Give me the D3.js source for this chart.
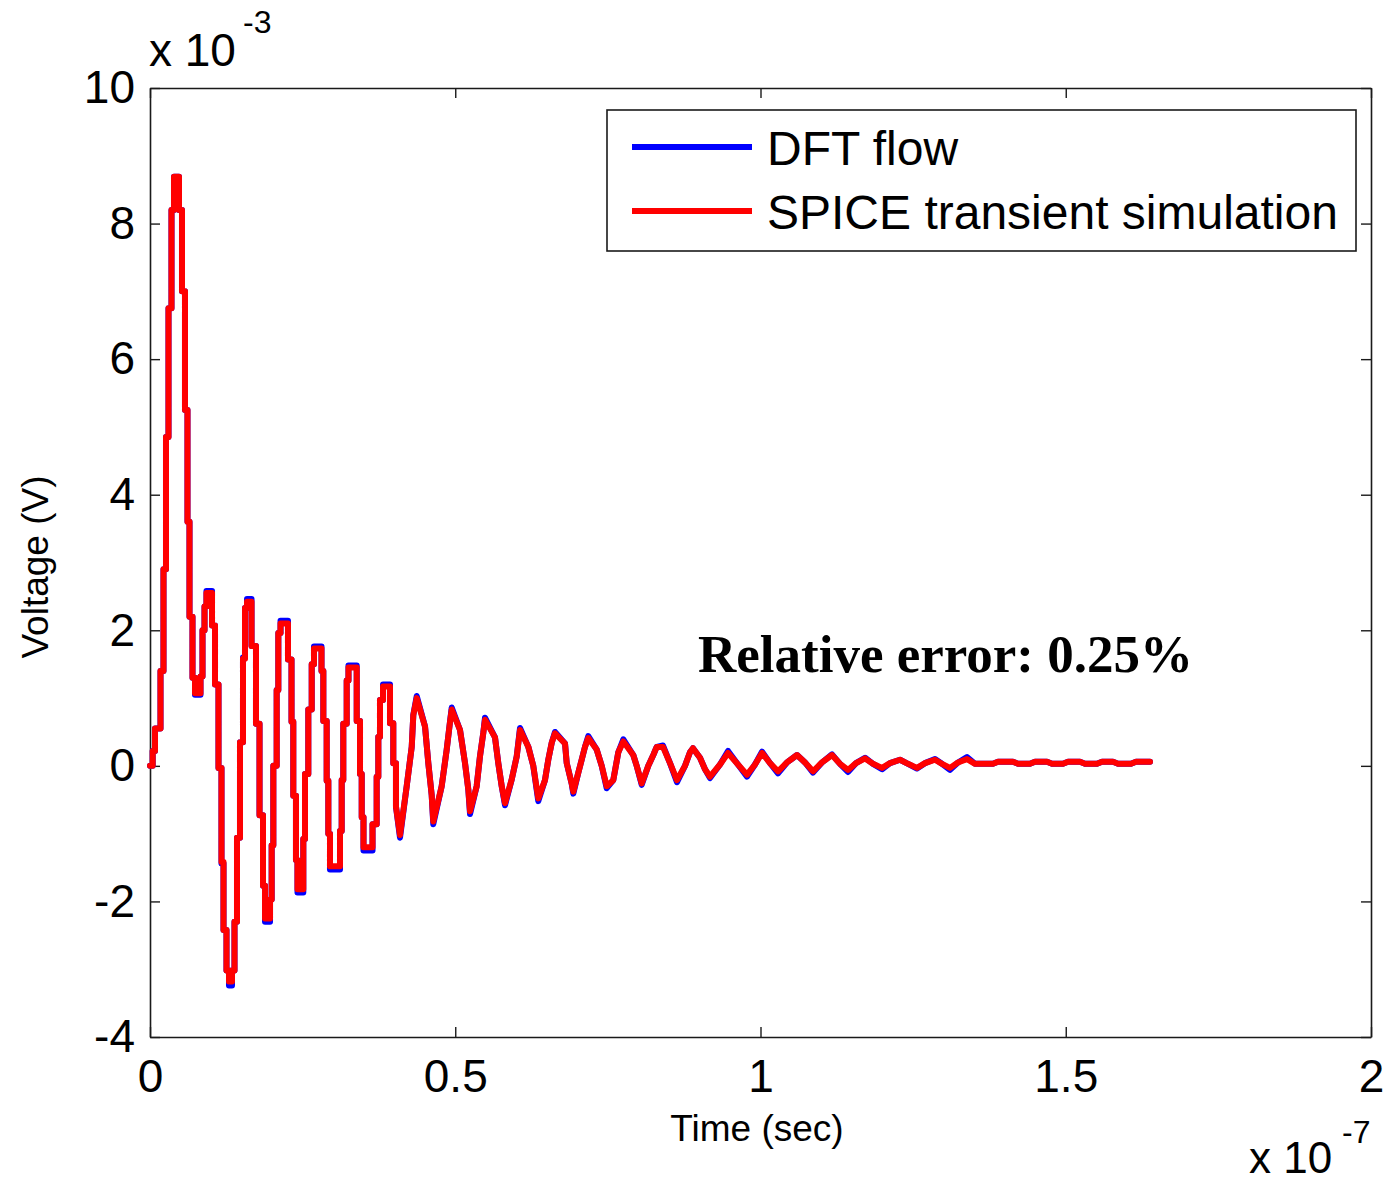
<!DOCTYPE html>
<html><head><meta charset="utf-8">
<script src="https://cdn.jsdelivr.net/npm/d3@7"></script>
<style>
body{margin:0;background:#fff}
svg{display:block}
text{font-family:"Liberation Sans",Arial,sans-serif;fill:#000}
</style>
</head><body>
<svg id="c" width="1392" height="1182"></svg>
<script>
// time in ns (axis shows x 10^-7 s), voltage in mV (axis shows x 10^-3 V)
const timeNs = [
  0, 0.44, 0.82, 1.72, 2.21, 2.62, 3.03, 3.52, 3.93, 4.75,
  5.24, 5.73, 6.14, 6.47, 6.96, 7.37, 8.27, 8.6, 8.93, 9.25,
  10.16, 10.65, 11.22, 11.71, 12.04, 12.53, 12.94, 13.43, 13.84, 14.25,
  14.74, 15.23, 15.56, 15.89, 16.63, 17.36, 17.94, 18.51, 18.84, 19.66,
  19.93, 20.2, 20.75, 21.02, 21.38, 22.6, 23.18, 23.47, 23.91, 24.16,
  25.11, 25.39, 25.93, 26.49, 26.86, 28.09, 28.39, 28.94, 29.21, 29.48,
  31.12, 31.4, 31.66, 32.22, 32.51, 33.86, 34.4, 34.68, 34.97, 36.45,
  37.13, 37.4, 37.67, 38.17, 39.31, 39.85, 40.29, 40.95, 42.05, 42.87,
  43.13, 43.69, 45.05, 45.59, 46.14, 46.4, 47.78, 48.6, 49.14, 49.42,
  50.78, 51.6, 52.14, 52.42, 53.51, 54.05, 54.6, 54.87, 56.51, 57.05,
  57.61, 58.15, 59.25, 60.07, 60.61, 61.97, 62.78, 63.6, 64.7, 65.24,
  65.8, 66.34, 67.98, 68.26, 69.07, 69.34, 70.16, 70.71, 71.25, 71.79,
  73.17, 73.99, 74.81, 75.89, 76.71, 77.53, 79.16, 79.72, 80.54, 81.62,
  82.44, 83.0, 84.03, 85.18, 86.32, 87.63, 88.45, 88.94, 90.09, 90.91,
  91.73, 93.37, 94.68, 96.31, 97.79, 99.1, 100.25, 101.56, 102.87, 104.34,
  105.98, 107.29, 108.6, 110.07, 111.71, 113.02, 114.33, 115.64, 117.12, 118.43,
  119.9, 121.21, 122.85, 124.16, 125.63, 126.94, 128.58, 129.73, 131.04, 132.35,
  133.82, 135.14, 138.08, 138.9, 141.36, 142.18, 144.14, 144.96, 146.93, 147.75,
  149.55, 150.37, 152.33, 153.15, 155.12, 155.94, 157.74, 158.56, 160.69, 161.51,
  163.8
];
const spiceMv = [
  0, 0.22, 0.55, 1.4, 2.9, 4.85, 6.75, 8.2, 8.69, 8.2,
  7.0, 5.25, 3.6, 2.2, 1.3, 1.07, 1.32, 2.0, 2.35, 2.55,
  2.07, 1.2, -0.03, -1.42, -2.42, -3.02, -3.18, -3.02, -2.3, -1.06,
  0.35, 1.58, 2.33, 2.42, 1.77, 0.62, -0.73, -1.77, -2.25, -1.97,
  -1.17, 0.0, 1.12, 1.96, 2.1, 1.57, 0.65, -0.44, -1.39, -1.82,
  -1.08, -0.12, 0.83, 1.5, 1.73, 1.4, 0.66, -0.22, -1.0, -1.48,
  -0.96, -0.21, 0.62, 1.26, 1.45, 0.66, -0.12, -0.76, -1.2, -0.86,
  -0.16, 0.43, 0.97, 1.17, 0.63, 0.04, -0.6, -1.02, -0.3, 0.28,
  0.75, 1.0, 0.58, 0.04, -0.43, -0.82, -0.3, 0.24, 0.65, 0.83,
  0.53, 0.04, -0.35, -0.67, -0.3, 0.14, 0.49, 0.68, 0.42, 0.04,
  -0.3, -0.55, -0.2, 0.14, 0.53, 0.28, 0.0, -0.48, -0.21, 0.09,
  0.34, 0.48, 0.33, 0.04, -0.26, -0.38, -0.1, 0.09, 0.28, 0.41,
  0.24, 0.0, -0.3, -0.21, 0.2, 0.36, 0.16, 0.0, -0.26, 0.0,
  0.16, 0.28, 0.28, 0.04, -0.21, 0.0, 0.2, 0.26, 0.12, -0.05,
  -0.16, 0.02, 0.19, 0.02, -0.13, 0.02, 0.19, 0.04, -0.08, 0.05,
  0.16, 0.05, -0.08, 0.05, 0.16, 0.03, -0.06, 0.04, 0.11, 0.03,
  -0.03, 0.04, 0.09, 0.03, -0.03, 0.04, 0.09, 0.03, -0.03, 0.05,
  0.1, 0.03, 0.03, 0.06, 0.06, 0.03, 0.03, 0.06, 0.06, 0.03,
  0.03, 0.06, 0.06, 0.03, 0.03, 0.06, 0.06, 0.03, 0.03, 0.06,
  0.06
];
const dftMv = [
  0, 0.22, 0.55, 1.4, 2.9, 4.85, 6.75, 8.2, 8.69, 8.2,
  7.0, 5.25, 3.6, 2.2, 1.3, 1.05, 1.32, 2.0, 2.35, 2.58,
  2.07, 1.2, -0.03, -1.44, -2.42, -3.02, -3.24, -3.02, -2.3, -1.06,
  0.35, 1.6, 2.33, 2.46, 1.77, 0.62, -0.73, -1.77, -2.3, -1.97,
  -1.17, 0.0, 1.12, 1.96, 2.14, 1.57, 0.65, -0.44, -1.39, -1.87,
  -1.08, -0.12, 0.83, 1.5, 1.76, 1.4, 0.66, -0.22, -1.0, -1.53,
  -0.96, -0.21, 0.62, 1.26, 1.48, 0.66, -0.12, -0.76, -1.25, -0.86,
  -0.16, 0.43, 0.97, 1.2, 0.63, 0.04, -0.6, -1.06, -0.3, 0.28,
  0.75, 1.03, 0.58, 0.04, -0.43, -0.86, -0.3, 0.24, 0.65, 0.86,
  0.53, 0.04, -0.35, -0.71, -0.3, 0.14, 0.49, 0.71, 0.42, 0.04,
  -0.3, -0.58, -0.2, 0.14, 0.56, 0.28, 0.0, -0.52, -0.21, 0.09,
  0.34, 0.5, 0.33, 0.04, -0.26, -0.41, -0.1, 0.09, 0.28, 0.44,
  0.24, 0.0, -0.33, -0.21, 0.2, 0.39, 0.16, 0.0, -0.28, 0.0,
  0.16, 0.28, 0.3, 0.04, -0.24, 0.0, 0.2, 0.26, 0.12, -0.05,
  -0.18, 0.02, 0.22, 0.02, -0.16, 0.02, 0.21, 0.04, -0.11, 0.05,
  0.16, 0.05, -0.1, 0.05, 0.17, 0.03, -0.09, 0.04, 0.12, 0.03,
  -0.05, 0.04, 0.09, 0.03, -0.04, 0.04, 0.1, 0.03, -0.06, 0.05,
  0.13, 0.03, 0.03, 0.06, 0.06, 0.03, 0.03, 0.06, 0.06, 0.03,
  0.03, 0.06, 0.06, 0.03, 0.03, 0.06, 0.06, 0.03, 0.03, 0.06,
  0.06
];
// samples up to this time are held (sample-and-hold staircase); later ones are joined linearly
const stepUntilNs = 40.29;

const xTicks = [0, 50, 100, 150, 200];
const xTickLabels = ["0", "0.5", "1", "1.5", "2"];
const yTicks = [-4, -2, 0, 2, 4, 6, 8, 10];
const yTickLabels = ["-4", "-2", "0", "2", "4", "6", "8", "10"];
const seriesNames = ["DFT flow", "SPICE transient simulation"];
const seriesColors = ["#0000ff", "#ff0000"];
const xLabel = "Time (sec)";
const yLabel = "Voltage (V)";
const annotation = "Relative error: 0.25%";

const svg = d3.select("#c");
const L = 150, R = 1371, T = 88, B = 1037;
const x = d3.scaleLinear().domain([0, 200]).range([L, R]);
const y = d3.scaleLinear().domain([-4, 10]).range([B, T]);
const axisColor = "#1a1a1a";

svg.append("rect").attr("x", L).attr("y", T).attr("width", R - L).attr("height", B - T)
  .attr("fill", "#fff");

function styleAxis(g) {
  g.selectAll("path").attr("stroke", axisColor).attr("stroke-width", 1.6);
  g.selectAll("line").attr("stroke", axisColor).attr("stroke-width", 1.4);
  g.selectAll("text").attr("fill", "#000")
    .style("font-family", '"Liberation Sans", Arial, sans-serif').style("font-size", "46px");
}

svg.append("g").attr("transform", `translate(0,${B})`)
  .call(d3.axisBottom(x).tickValues(xTicks).tickSize(-10).tickSizeOuter(0).tickPadding(22)
    .tickFormat((d, i) => xTickLabels[i]))
  .call(styleAxis);
svg.append("g").attr("transform", `translate(0,${T})`)
  .call(d3.axisTop(x).tickValues(xTicks).tickSize(-10).tickSizeOuter(0).tickFormat(""))
  .call(styleAxis);
svg.append("g").attr("transform", `translate(${L},0)`)
  .call(d3.axisLeft(y).tickValues(yTicks).tickSize(-10).tickSizeOuter(0).tickPadding(15)
    .tickFormat((d, i) => yTickLabels[i]))
  .call(styleAxis);
svg.append("g").attr("transform", `translate(${R},0)`)
  .call(d3.axisRight(y).tickValues(yTicks).tickSize(-10).tickSizeOuter(0).tickFormat(""))
  .call(styleAxis);

// series
function drawSeries(vals, color) {
  const pts = timeNs.map((t, i) => [t, vals[i]]);
  const held = pts.filter(p => p[0] <= stepUntilNs);
  const joined = pts.filter(p => p[0] >= stepUntilNs);
  const gStep = d3.line().x(p => x(p[0])).y(p => y(p[1])).curve(d3.curveStepAfter);
  const gLin = d3.line().x(p => x(p[0])).y(p => y(p[1])).curve(d3.curveLinear);
  [[held, gStep], [joined, gLin]].forEach(([d, gen]) => {
    svg.append("path").attr("d", gen(d)).attr("fill", "none").attr("stroke", color)
      .attr("stroke-width", 6).attr("stroke-linejoin", "round").attr("stroke-linecap", "round");
  });
}
drawSeries(dftMv, seriesColors[0]);
drawSeries(spiceMv, seriesColors[1]);

// exponent labels
svg.append("text").attr("x", 149).attr("y", 66).style("font-size", "46px").text("x 10");
svg.append("text").attr("x", 243).attr("y", 33).style("font-size", "32px").text("-3");
svg.append("text").attr("x", 1249).attr("y", 1173).style("font-size", "44px").text("x 10");
svg.append("text").attr("x", 1342).attr("y", 1143).style("font-size", "32px").text("-7");

// axis titles
svg.append("text").attr("x", 757).attr("y", 1141).attr("text-anchor", "middle")
  .style("font-size", "37px").text(xLabel);
svg.append("text").attr("transform", "translate(48,567) rotate(-90)").attr("text-anchor", "middle")
  .style("font-size", "37px").text(yLabel);

// annotation
svg.append("text").attr("x", 698).attr("y", 672)
  .style("font-family", '"Liberation Serif", "Times New Roman", serif')
  .style("font-weight", "bold").style("font-size", "53px").text(annotation);

// legend
const lg = svg.append("g");
lg.append("rect").attr("x", 607).attr("y", 110).attr("width", 749).attr("height", 141)
  .attr("fill", "#fff").attr("stroke", axisColor).attr("stroke-width", 1.6);
const legY = [147, 211];
seriesNames.forEach((name, i) => {
  lg.append("line").attr("x1", 632).attr("x2", 752).attr("y1", legY[i]).attr("y2", legY[i])
    .attr("stroke", seriesColors[i]).attr("stroke-width", 6);
  lg.append("text").attr("x", 767).attr("y", legY[i] + 18).style("font-size", "48px").text(name);
});
</script>
</body></html>
